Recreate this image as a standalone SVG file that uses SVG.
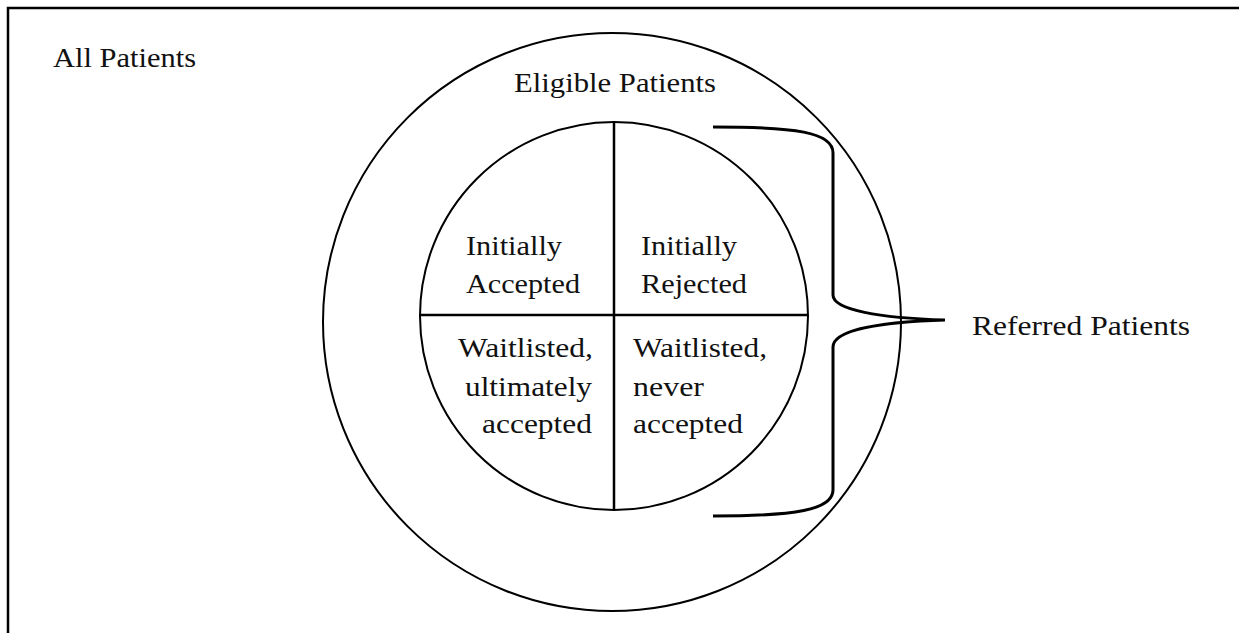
<svg xmlns="http://www.w3.org/2000/svg" width="1239" height="633" viewBox="0 0 1239 633">
<style>
text { font-family: "Liberation Serif", "Times New Roman", serif; font-size: 28px; fill: #111; }
.ln { fill: none; stroke: #000; }
</style>
<rect x="0" y="0" width="1239" height="633" fill="#fff"/>
<g id="all-patients">
<rect class="ln" x="8" y="8" width="1260" height="660" stroke-width="2.5"/>
<text x="53" y="67" textLength="143" lengthAdjust="spacingAndGlyphs">All Patients</text>
</g>
<g id="eligible-patients">
<circle class="ln" cx="612" cy="322" r="289" stroke-width="2"/>
<text x="514" y="92" textLength="202" lengthAdjust="spacingAndGlyphs">Eligible Patients</text>
</g>
<g id="referred-circle">
<circle class="ln" cx="614" cy="316" r="194" stroke-width="2"/>
<line class="ln" x1="420" y1="315" x2="808" y2="315" stroke-width="2.5"/>
<line class="ln" x1="614" y1="122" x2="614" y2="510" stroke-width="2.5"/>
</g>
<g id="initially-accepted">
<text x="466" y="255" textLength="96" lengthAdjust="spacingAndGlyphs">Initially</text>
<text x="466" y="293" textLength="114" lengthAdjust="spacingAndGlyphs">Accepted</text>
</g>
<g id="initially-rejected">
<text x="641" y="255" textLength="96" lengthAdjust="spacingAndGlyphs">Initially</text>
<text x="641" y="293" textLength="106" lengthAdjust="spacingAndGlyphs">Rejected</text>
</g>
<g id="waitlisted-accepted">
<text x="458" y="357" textLength="135" lengthAdjust="spacingAndGlyphs">Waitlisted,</text>
<text x="465" y="396" textLength="127" lengthAdjust="spacingAndGlyphs">ultimately</text>
<text x="482" y="433" textLength="110" lengthAdjust="spacingAndGlyphs">accepted</text>
</g>
<g id="waitlisted-never">
<text x="633" y="357" textLength="134" lengthAdjust="spacingAndGlyphs">Waitlisted,</text>
<text x="633" y="396" textLength="71" lengthAdjust="spacingAndGlyphs">never</text>
<text x="633" y="433" textLength="110" lengthAdjust="spacingAndGlyphs">accepted</text>
</g>
<g id="connectors">
<path class="ln" stroke-width="3" d="M713,127 C795,127 833,132 833,153 L833,295 C833,310 880,318 945,320 C880,322 833,330 833,347 L833,490 C833,510 795,516 713,516"/>
</g>
<g id="referred-patients">
<text x="972" y="335" textLength="218" lengthAdjust="spacingAndGlyphs">Referred Patients</text>
</g>
</svg>
